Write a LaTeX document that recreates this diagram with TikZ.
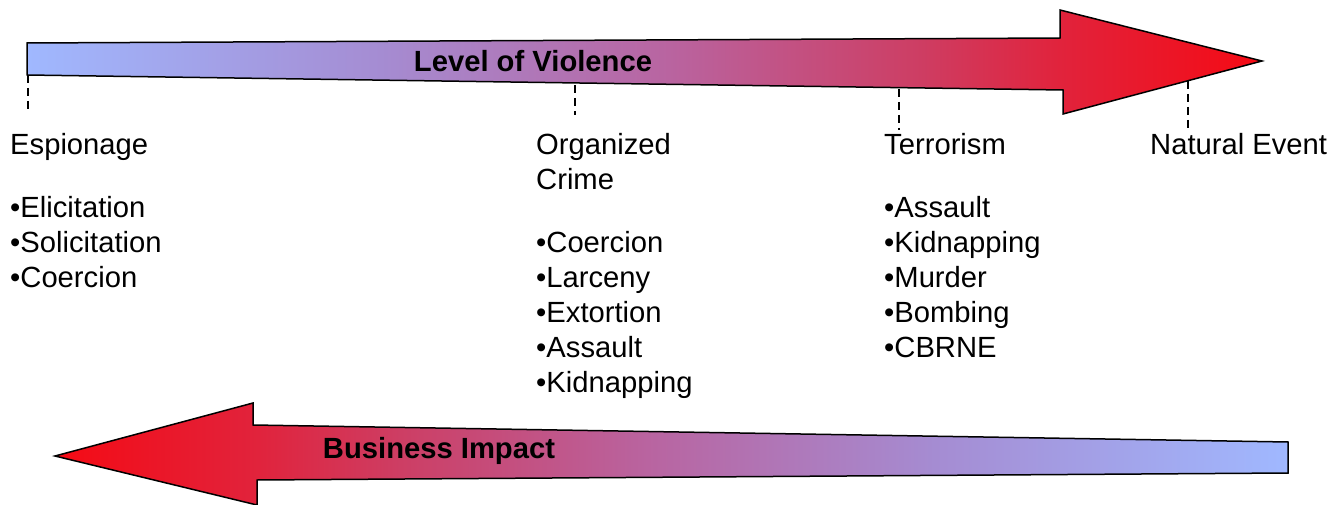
\documentclass[tikz,border=0pt]{standalone}
\usepackage{fontspec}
\setmainfont{Liberation Sans}
\usepackage{tikz}

% blue -> purple -> red along the bars (bbox maps to 25bp..75bp)
\pgfdeclarehorizontalshading{violence}{100bp}{%
  rgb(0bp)=(0.627,0.722,1);
  rgb(25bp)=(0.627,0.722,1);
  rgb(39.3bp)=(0.647,0.549,0.824);
  rgb(51bp)=(0.725,0.392,0.627);
  rgb(61bp)=(0.804,0.243,0.392);
  rgb(66.8bp)=(0.882,0.137,0.235);
  rgb(75bp)=(0.961,0.039,0.078);
  rgb(100bp)=(0.961,0.039,0.078)}

\begin{document}
\begin{tikzpicture}[x=1pt,y=-1pt]
\tikzstyle{bar} = [shade, shading=violence, draw=black, line width=1.5pt, line join=miter]
\tikzstyle{tick} = [draw=black, line width=1.5pt, dash pattern=on 8pt off 5pt]
\tikzstyle{label} = [inner sep=0pt, anchor=base west, font=\fontsize{29.2}{35}\selectfont]
\tikzstyle{title} = [inner sep=0pt, anchor=base, font=\fontsize{29.2}{35}\selectfont\bfseries]
%
\useasboundingbox (0,0) rectangle (1332,505);

	% top bar
	\path[bar] (27,43) -- (1060,38) -- (1060,10) -- (1262,61) -- (1063,114)
		-- (1063,90) -- (27,75) -- cycle;
	\node[title] (violence) at (533,72) {Level of Violence};

	% bottom bar
	\path[bar, shading angle=180] (55,456) -- (253,403) -- (253,425) -- (1288,442)
		-- (1288,473) -- (257,480) -- (257,505) -- cycle;
	\node[title] (impact) at (439,458) {Business Impact};

	% headings
	\node[label] (espionage) at (10,155) {Espionage};
	\node[label] (crime) at (536,155) {\begin{tabular}[t]{@{}l@{}}Organized\\Crime\end{tabular}};
	\node[label] (terror) at (884,155) {Terrorism};
	\node[label] (natural) at (1150,155) {Natural Event};

	% ticks
	\coordinate (esp top) at (28,75);    \coordinate (esp end) at (28,110);
	\coordinate (crime top) at (575,85); \coordinate (crime end) at (575,115);
	\coordinate (terror top) at (899,89); \coordinate (terror end) at (899,130);
	\coordinate (nat top) at (1188,81);  \coordinate (nat end) at (1188,130);
	\draw[tick] (esp top) -- (esp end);
	\draw[tick] (crime top) -- (crime end);
	\draw[tick] (terror top) -- (terror end);
	\draw[tick] (nat top) -- (nat end);

	% lists
	\node[label] (espionage list) at (10,217) {\begin{tabular}[t]{@{}l@{}}
		•Elicitation\\•Solicitation\\•Coercion\end{tabular}};
	\node[label] (crime list) at (536,252) {\begin{tabular}[t]{@{}l@{}}
		•Coercion\\•Larceny\\•Extortion\\•Assault\\•Kidnapping\end{tabular}};
	\node[label] (terror list) at (884,217) {\begin{tabular}[t]{@{}l@{}}
		•Assault\\•Kidnapping\\•Murder\\•Bombing\\•CBRNE\end{tabular}};
\end{tikzpicture}
\end{document}
